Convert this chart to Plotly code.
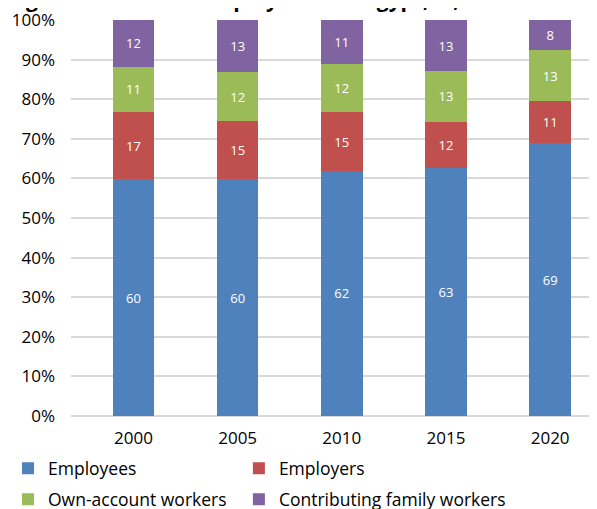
import plotly.graph_objects as go

years = ["2000", "2005", "2010", "2015", "2020"]
employees = [59.8, 59.8, 61.9, 62.6, 68.9]
employers = [17.0, 14.7, 14.8, 11.7, 10.6]
own_account = [11.4, 12.3, 12.3, 12.8, 12.9]
family = [11.8, 13.2, 11.0, 12.9, 7.6]

series = [
    ("Employees", employees, "#4F81BD", "legend"),
    ("Employers", employers, "#C0504D", "legend2"),
    ("Own-account workers", own_account, "#9BBB59", "legend3"),
    ("Contributing family workers", family, "#8064A2", "legend4"),
]

font = "'Open Sans', Lato, sans-serif"

fig = go.Figure()
for name, vals, color, leg in series:
    fig.add_trace(
        go.Bar(
            x=years,
            y=vals,
            name=name,
            legend=leg,
            showlegend=True,
            marker=dict(color=color, line=dict(width=0)),
            texttemplate="%{y:.0f}",
            textposition="inside",
            insidetextanchor="middle",
            textfont=dict(color="white", size=13, family=font),
            hoverinfo="skip",
        )
    )

# title is cut off by the top edge in the reference
fig.add_annotation(
    text="<b>Figure 5: Status in employment in Egypt, %, 2000-2020</b>",
    xref="paper",
    yref="paper",
    x=-0.124,
    y=1,
    xanchor="left",
    yanchor="middle",
    yshift=21,
    showarrow=False,
    font=dict(size=21, family=font),
)

legend_style = dict(
    orientation="h",
    xref="container",
    xanchor="left",
    yref="container",
    yanchor="top",
    itemwidth=30,
    font=dict(size=17.5),
)

fig.update_layout(
    width=589,
    height=501,
    showlegend=True,
    barmode="stack",
    bargap=0.6,
    margin=dict(l=63, r=0, t=12, b=93),
    plot_bgcolor="white",
    paper_bgcolor="white",
    font=dict(family=font, size=17, color="#000"),
    xaxis=dict(
        range=[-0.6, 4.45],
        showgrid=False,
        ticks="",
        showline=False,
        automargin=False,
        ticklabelstandoff=10,
    ),
    yaxis=dict(
        range=[0, 100],
        dtick=10,
        ticksuffix="%",
        showgrid=True,
        gridcolor="#d9d9d9",
        gridwidth=1.5,
        zeroline=True,
        zerolinecolor="#d9d9d9",
        zerolinewidth=1.5,
        ticklabelstandoff=15,
        ticklabeloverflow="allow",
        automargin=False,
    ),
    legend=dict(legend_style, x=-0.0068, y=0.1168),
    legend2=dict(legend_style, x=0.392, y=0.1168),
    legend3=dict(legend_style, x=-0.0068, y=0.055),
    legend4=dict(legend_style, x=0.392, y=0.055),
)

fig.write_html("out.html")
